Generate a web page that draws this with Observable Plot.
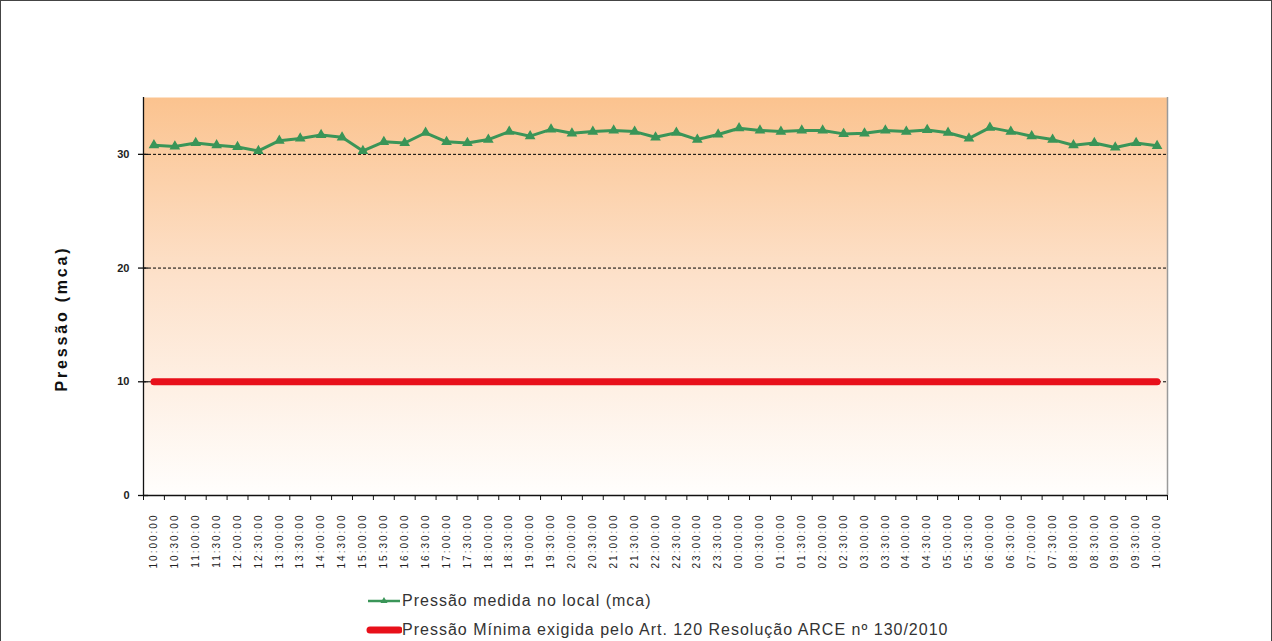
<!DOCTYPE html>
<html>
<head>
<meta charset="utf-8">
<script src="https://cdn.jsdelivr.net/npm/d3@7"></script>
<script src="https://cdn.jsdelivr.net/npm/@observablehq/plot@0.6"></script>
<style>
  html, body { margin: 0; padding: 0; background: #fff; overflow: hidden; }
  #wrap { position: relative; width: 1272px; height: 700px; box-sizing: border-box; border: 1px solid #444; background: #fff; font-family: "Liberation Sans", Arial, sans-serif; }
  #chart svg { display: block; }
  #chart [aria-label="x-axis tick label"] text { letter-spacing: 2px; }
  #chart .ylab text { letter-spacing: 2.8px; }
  .leg { position: absolute; left: 365px; height: 20px; display: flex; align-items: center; font-size: 16px; color: #333; white-space: nowrap; }
  .leg svg { display: block; }
</style>
</head>
<body>
<div id="wrap">
  <div id="chart"></div>
  <div class="leg" id="leg1" style="top:590px"></div>
  <div class="leg" id="leg2" style="top:619px"></div>
</div>
<script>
// ---- data ----
const times = [
  "10:00:00","10:30:00","11:00:00","11:30:00","12:00:00","12:30:00","13:00:00","13:30:00",
  "14:00:00","14:30:00","15:00:00","15:30:00","16:00:00","16:30:00","17:00:00","17:30:00",
  "18:00:00","18:30:00","19:00:00","19:30:00","20:00:00","20:30:00","21:00:00","21:30:00",
  "22:00:00","22:30:00","23:00:00","23:30:00","00:00:00","00:30:00","01:00:00","01:30:00",
  "02:00:00","02:30:00","03:00:00","03:30:00","04:00:00","04:30:00","05:00:00","05:30:00",
  "06:00:00","06:30:00","07:00:00","07:30:00","08:00:00","08:30:00","09:00:00","09:30:00",
  "10:00:00"
];
const pressure = [
  30.8, 30.7, 31.0, 30.8, 30.65, 30.3, 31.2, 31.4, 31.7, 31.5,
  30.3, 31.1, 31.0, 31.9, 31.1, 31.0, 31.3, 32.0, 31.6, 32.2,
  31.85, 32.0, 32.1, 32.0, 31.5, 31.9, 31.3, 31.75, 32.3, 32.1,
  32.0, 32.1, 32.1, 31.8, 31.85, 32.1, 32.0, 32.15, 31.9, 31.4,
  32.35, 32.0, 31.6, 31.3, 30.8, 31.0, 30.6, 31.0, 30.75
];
const minPressure = 10;
const yTicks = [0, 10, 20, 30];
const gridValues = [10, 20, 30];
const seriesNames = ["Pressão medida no local (mca)", "Pressão Mínima exigida pelo Art. 120 Resolução ARCE nº 130/2010"];
const yLabel = "Pressão (mca)";

// ---- derived tables ----
const idx = times.map((t, i) => i);
const measured = pressure.map((v, i) => ({i, v}));
const minimum = times.map((t, i) => ({i, v: minPressure}));
const boundaries = d3.range(times.length + 1).map(k => k - 0.5);
const green = "#3a9558";
const red = "#e8101a";

const W = 1270, H = 590, mL = 142, mR = 104, mT = 96, mB = 96;
const xPerPx = times.length / (W - mL - mR);

const chart = Plot.plot({
  width: W, height: H,
  marginTop: mT, marginBottom: mB, marginLeft: mL, marginRight: mR,
  style: {fontFamily: "'Liberation Sans', Arial, sans-serif", background: "transparent", overflow: "visible"},
  x: {domain: [-0.5, times.length - 0.5], axis: null},
  y: {domain: [0, 35], axis: null},
  marks: [
    Plot.frame({fill: "url(#bgGrad)", stroke: null}),
    Plot.ruleX([times.length - 0.5], {stroke: "#9a9a9a", strokeWidth: 1.5}),
    Plot.ruleY(gridValues, {stroke: "#000", strokeWidth: 1, strokeDasharray: "3,2"}),
    Plot.line(minimum, {x: "i", y: "v", stroke: red, strokeWidth: 7, strokeLinecap: "round"}),
    Plot.line(measured, {x: "i", y: "v", stroke: green, strokeWidth: 3, strokeLinejoin: "round"}),
    Plot.dot(measured, {x: "i", y: "v", symbol: "triangle", fill: green, stroke: green, r: 3}),
    // axes lines
    Plot.ruleX([-0.5], {stroke: "#111", strokeWidth: 1.3}),
    Plot.ruleY([0], {stroke: "#111", strokeWidth: 1.3}),
    // y cross ticks
    Plot.ruleY(yTicks, {x1: -0.5 - 5 * xPerPx, x2: -0.5 + 5 * xPerPx, stroke: "#111", strokeWidth: 1.3}),
    Plot.axisY(yTicks, {tickSize: 0, tickPadding: 14, fontSize: 11, fontWeight: "bold", fill: "#222", label: null}),
    // x boundary ticks
    Plot.axisX(boundaries, {tickSize: 5, tickFormat: () => "", stroke: "#111", label: null}),
    // x labels
    Plot.axisX(idx, {tickSize: 0, tickRotate: -90, tickPadding: 18, fontSize: 10, fill: "#222",
                     tickFormat: i => times[i], label: null}),
    Plot.text([yLabel], {frameAnchor: "left", textAnchor: "middle", dx: -82, dy: 22, rotate: -90, fontSize: 16,
                         fontWeight: "bold", fill: "#111", className: "ylab"})
  ]
});

// gradient definition for the plot background
const ns = "http://www.w3.org/2000/svg";
const defs = document.createElementNS(ns, "defs");
defs.innerHTML = `<linearGradient id="bgGrad" x1="0" y1="0" x2="0" y2="1">
  <stop offset="0%" stop-color="#fbc38f"/>
  <stop offset="45%" stop-color="#fde1ca"/>
  <stop offset="100%" stop-color="#fffefd"/>
</linearGradient>`;
chart.insertBefore(defs, chart.firstChild);
document.getElementById("chart").appendChild(chart);

// legend
function legendItem(el, name, kind) {
  const s = d3.create("svg").attr("width", 36).attr("height", 20);
  if (kind === "measured") {
    s.append("line").attr("x1", 2).attr("x2", 34).attr("y1", 10).attr("y2", 10)
      .attr("stroke", green).attr("stroke-width", 2.5);
    s.append("path").attr("d", d3.symbol(d3.symbolTriangle, 22)()).attr("transform", "translate(18,10)")
      .attr("fill", green);
  } else {
    s.append("line").attr("x1", 4).attr("x2", 33).attr("y1", 10).attr("y2", 10)
      .attr("stroke", red).attr("stroke-width", 7).attr("stroke-linecap", "round");
  }
  el.appendChild(s.node());
  const t = document.createElement("span");
  t.textContent = name;
  t.style.letterSpacing = "1px";
  el.appendChild(t);
}
legendItem(document.getElementById("leg1"), seriesNames[0], "measured");
legendItem(document.getElementById("leg2"), seriesNames[1], "min");
</script>
</body>
</html>
